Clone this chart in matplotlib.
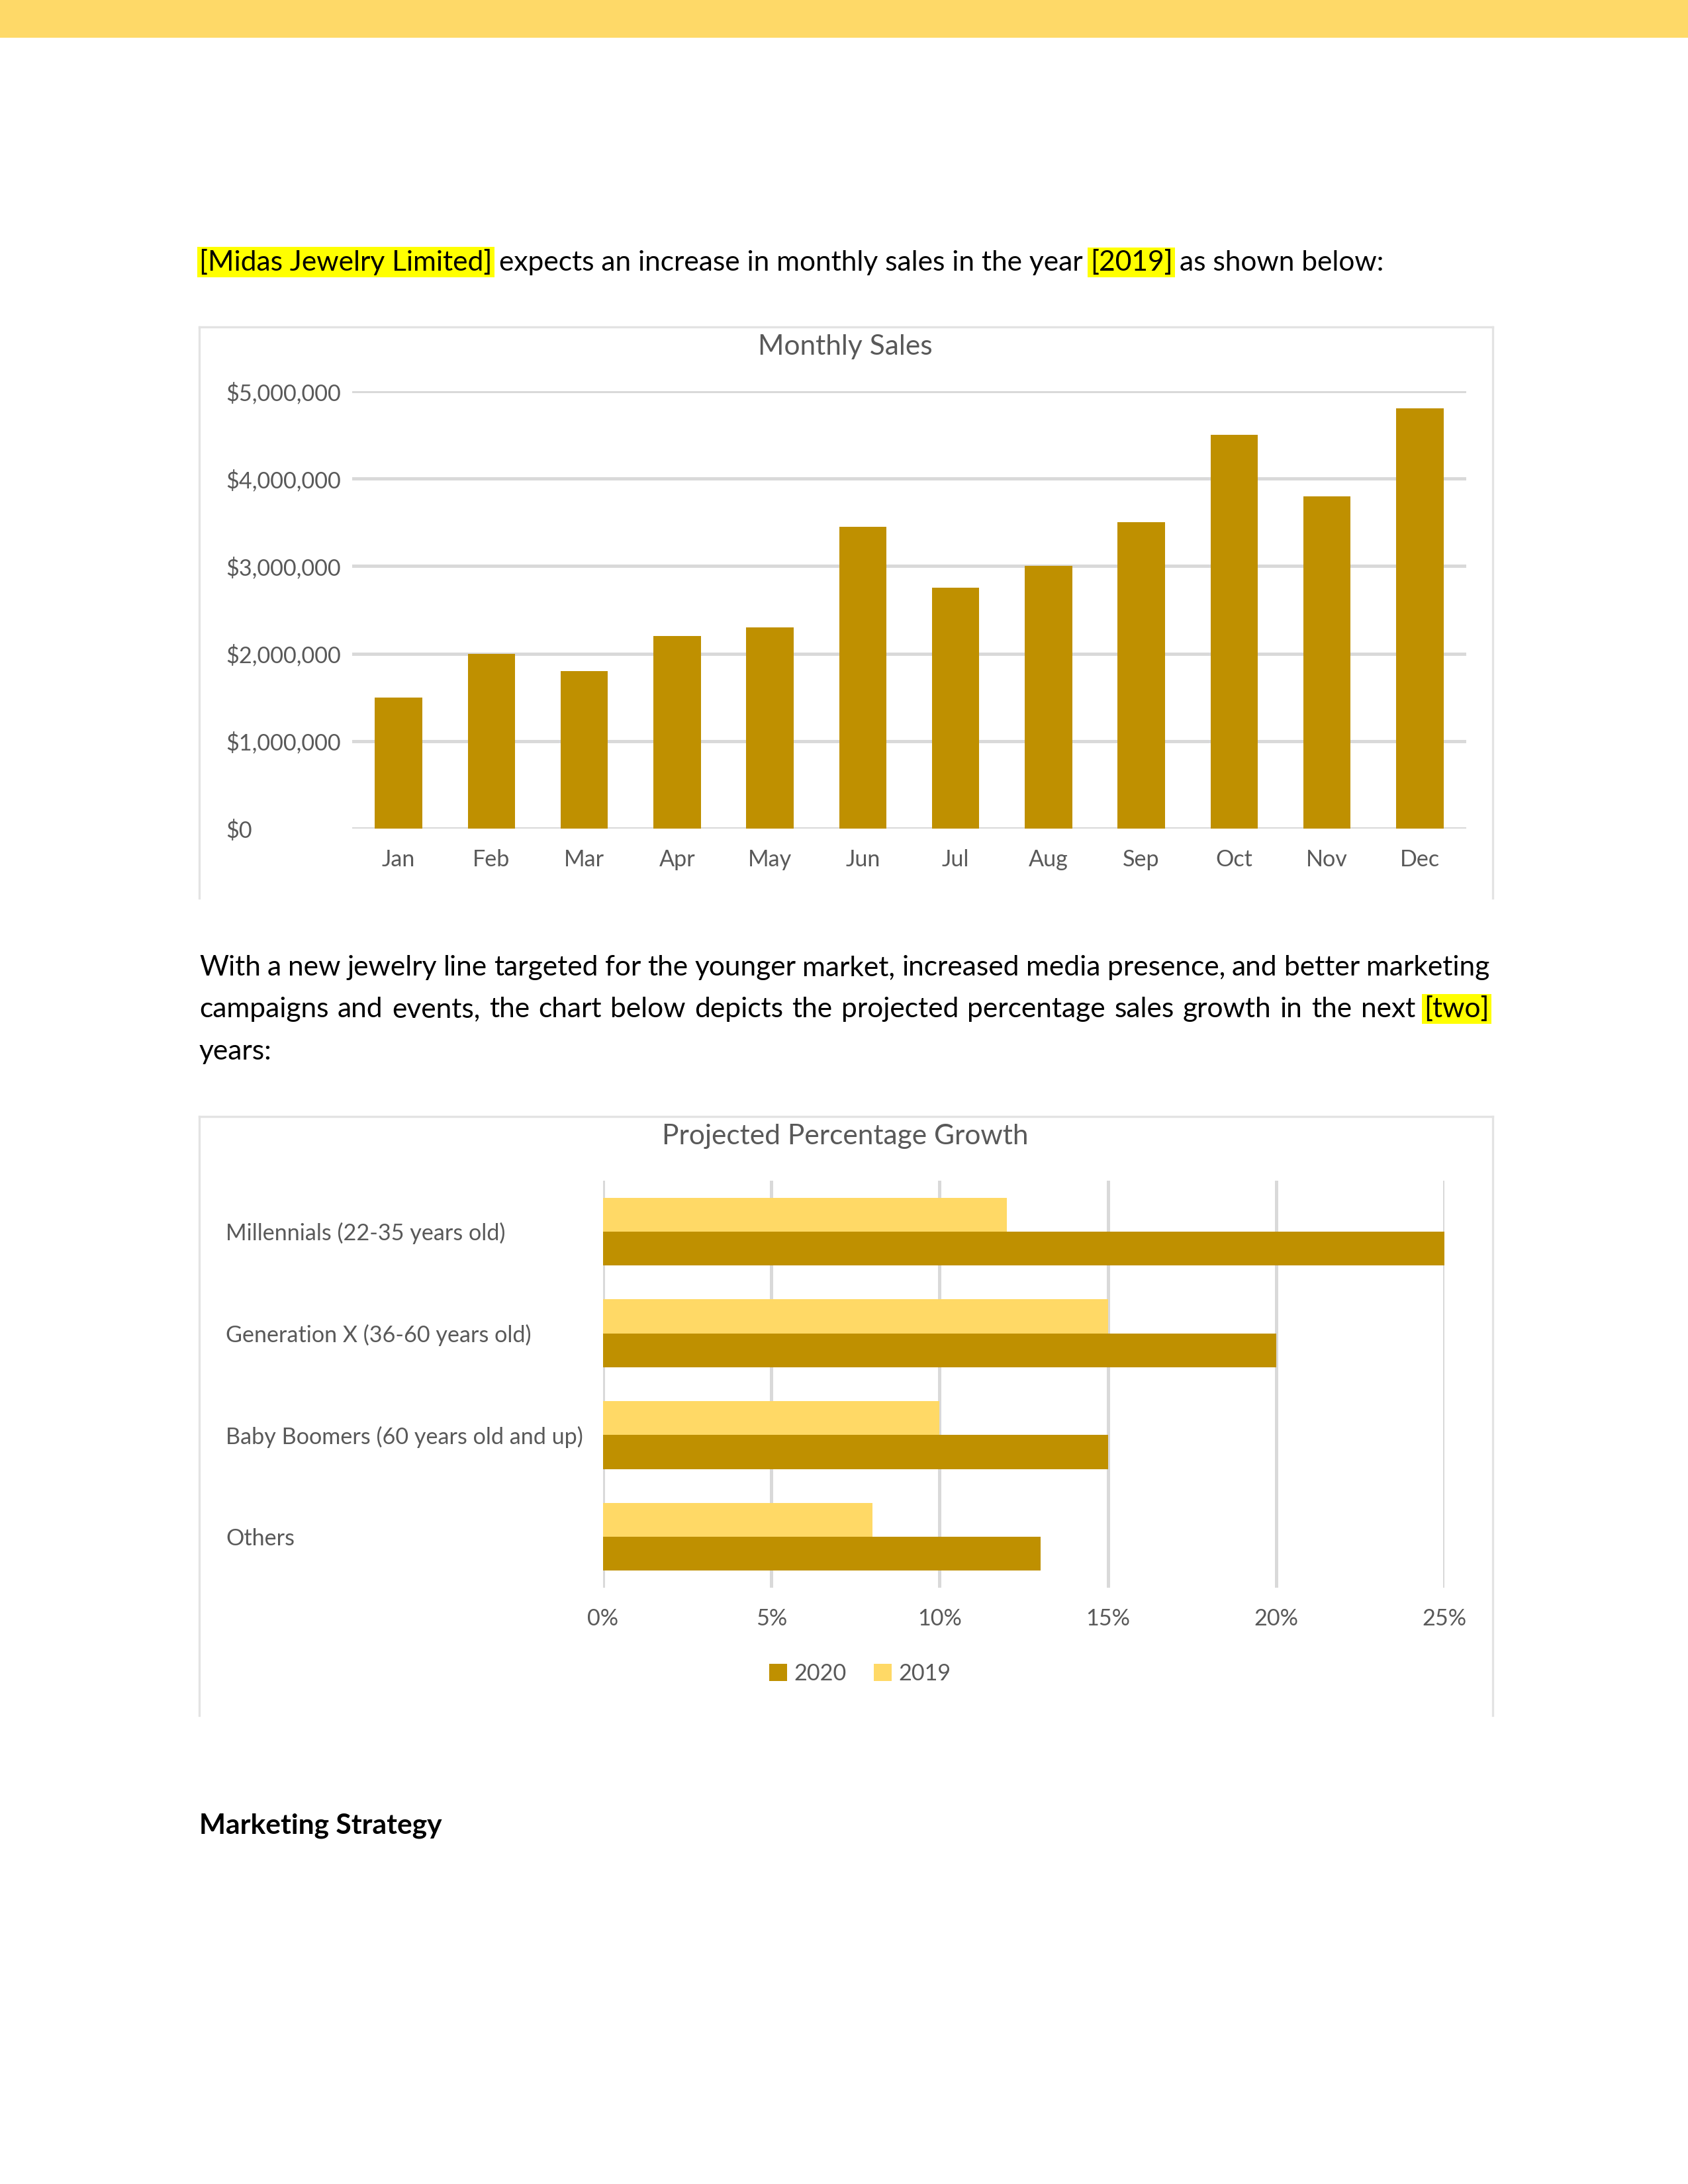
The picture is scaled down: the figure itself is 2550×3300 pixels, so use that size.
import matplotlib
matplotlib.use("Agg")
import matplotlib.pyplot as plt
from matplotlib.patches import Rectangle
from matplotlib.lines import Line2D
from matplotlib.ticker import FuncFormatter

plt.rcParams['font.family'] = ['Lato', 'DejaVu Sans']

# ---------------- data ----------------
months = ["Jan", "Feb", "Mar", "Apr", "May", "Jun", "Jul", "Aug", "Sep", "Oct", "Nov", "Dec"]
sales = [1500000, 2000000, 1800000, 2200000, 2300000, 3450000, 2750000, 3000000, 3500000, 4500000, 3800000, 4800000]
sales_ticks = [0, 1000000, 2000000, 3000000, 4000000, 5000000]

segments = ["Millennials (22-35 years old)", "Generation X (36-60 years old)",
            "Baby Boomers (60 years old and up)", "Others"]
growth_2019 = [12, 15, 10, 8]
growth_2020 = [25, 20, 15, 13]
growth_ticks = [0, 5, 10, 15, 20, 25]

DARK = "#BF9000"
LIGHT = "#FFD966"
GRID = "#D9D9D9"
TXT = "#595959"
HL = "#FFFF00"

BODY_FS = 10.2
CHART_FS = 8.2
TITLE_FS = 10.2

W, H = 2550, 3300
fig = plt.figure(figsize=(8.5, 11), dpi=300)

def fx(px):
    return px / W

def fy(py):
    return 1 - py / H

# top band
fig.add_artist(Rectangle((0, fy(57)), 1, 57 / H, transform=fig.transFigure,
                         facecolor="#FED968", edgecolor="none", zorder=0))

renderer = fig.canvas.get_renderer()

BODY = dict(fontsize=BODY_FS, color="black")

def width_of(s, **kw):
    t = fig.text(0, 0, s, **kw)
    w = t.get_window_extent(renderer).width
    t.remove()
    return w

def draw_line(words, x0, yb, target=None):
    """words: list of (word, highlight). Placed in pixels with baseline yb."""
    widths = [width_of(w, **BODY) for w, _ in words]
    sp = width_of("a a", **BODY) - width_of("aa", **BODY)
    if target is not None and len(words) > 1:
        gap = (target - sum(widths)) / (len(words) - 1)
    else:
        gap = sp
    x = x0
    for (w, hl), wd in zip(words, widths):
        t = fig.text(fx(x), fy(yb), w, ha="left", va="baseline", **BODY)
        if hl:
            t.set_bbox(dict(boxstyle="square,pad=0.08", facecolor=HL, edgecolor="none"))
        x += wd + gap

def words_of(line, hl_words=()):
    return [(w, w in hl_words) for w in line.split(" ")]

# paragraph 1 (highlight groups kept together)
p1 = [("[Midas Jewelry Limited]", True), ("expects an increase in monthly sales in the year", False),
      ("[2019]", True), ("as shown below:", False)]
draw_line(p1, 301, 409)

LEFT, RIGHT = 301, 2250
p2_lines = [
    "With a new jewelry line targeted for the younger market, increased media presence, and better marketing",
    "campaigns and events, the chart below depicts the projected percentage sales growth in the next [two]",
    "years:",
]
draw_line(words_of(p2_lines[0]), LEFT, 1474, target=RIGHT - LEFT)
draw_line(words_of(p2_lines[1], ("[two]",)), LEFT, 1537, target=RIGHT - LEFT)
draw_line(words_of(p2_lines[2]), LEFT, 1601)

fig.text(fx(301), fy(2771), "Marketing Strategy", ha="left", va="baseline",
         fontsize=BODY_FS, fontweight="bold", color="black")

# chart frames (left, top, right)
def frame(l, t, r, b):
    for xs, ys in [((l, l), (t, b)), ((l, r), (t, t)), ((r, r), (t, b))]:
        fig.add_artist(Line2D([fx(v) for v in xs], [fy(v) for v in ys],
                              transform=fig.transFigure, color="#E3E3E3", lw=0.8))

frame(301, 494, 2255, 1357)
frame(301, 1687, 2255, 2592)

LABEL_X = 341

# ---------------- chart 1 ----------------
ax1 = fig.add_axes([fx(532), fy(1252), fx(2215) - fx(532), (1252 - 591) / H])
ax1.bar(range(len(months)), sales, width=0.51, color=DARK, zorder=3)
ax1.set_xlim(-0.5, len(months) - 0.5)
ax1.set_ylim(0, 5000000)
ax1.set_yticks(sales_ticks)
ax1.yaxis.set_major_formatter(FuncFormatter(lambda v, p: "${:,.0f}".format(v)))
ax1.set_xticks(range(len(months)))
ax1.set_xticklabels(months)
ax1.grid(axis="y", color=GRID, lw=1.2, zorder=0)
for s in ax1.spines.values():
    s.set_visible(False)
ax1.tick_params(length=0, labelsize=CHART_FS, labelcolor=TXT)
ax1.tick_params(axis="y", pad=(532 - LABEL_X) * 72 / 300)
for lab in ax1.get_yticklabels():
    lab.set_horizontalalignment("left")
ax1.tick_params(axis="x", pad=7.5)
fig.text(fx(1277), fy(524), "Monthly Sales", ha="center", va="center", fontsize=TITLE_FS, color=TXT)

# ---------------- chart 2 ----------------
ax2 = fig.add_axes([fx(911), fy(2399), fx(2182) - fx(911), (2399 - 1784) / H])
n = len(segments)
ypos = list(range(n))
h = 0.333
ax2.barh([y - h / 2 for y in ypos], growth_2019, height=h, color=LIGHT, zorder=3, label="2019")
ax2.barh([y + h / 2 for y in ypos], growth_2020, height=h, color=DARK, zorder=3, label="2020")
ax2.set_ylim(n - 0.5, -0.5)
ax2.set_xlim(0, 25)
ax2.set_xticks(growth_ticks)
ax2.set_xticklabels(["{}%".format(v) for v in growth_ticks])
ax2.set_yticks(ypos)
ax2.set_yticklabels(segments, ha="left")
ax2.grid(axis="x", color=GRID, lw=1.2, zorder=0)
for s in ax2.spines.values():
    s.set_visible(False)
ax2.tick_params(length=0, labelsize=CHART_FS, labelcolor=TXT)
ax2.tick_params(axis="y", pad=(911 - LABEL_X) * 72 / 300)
ax2.tick_params(axis="x", pad=7.5)
fig.text(fx(1277), fy(1717), "Projected Percentage Growth", ha="center", va="center",
         fontsize=TITLE_FS, color=TXT)

handles, labels = ax2.get_legend_handles_labels()
fig.legend(handles[::-1], labels[::-1], loc="center", bbox_to_anchor=(fx(1299), fy(2529)),
           ncol=2, frameon=False, fontsize=CHART_FS, labelcolor=TXT, handlelength=0.8,
           handleheight=0.8, handletextpad=0.3, columnspacing=1.2)

fig.savefig("out.png", dpi=300)
